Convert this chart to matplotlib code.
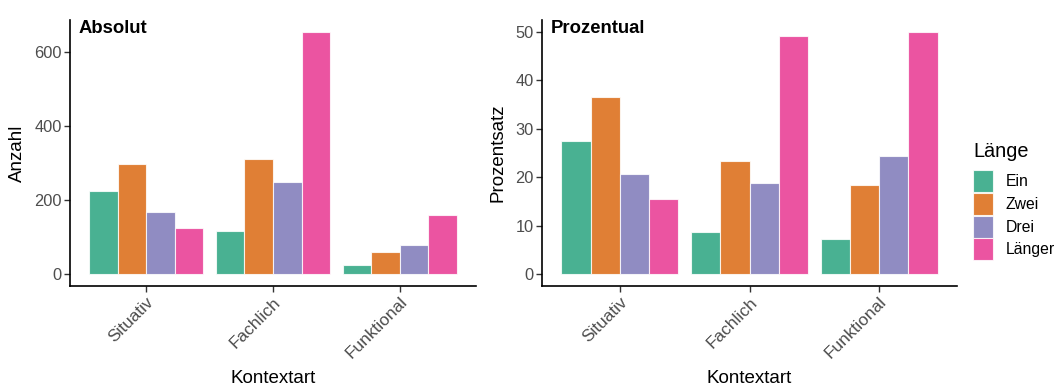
import numpy as np
import matplotlib
matplotlib.use("Agg")
import matplotlib.pyplot as plt
from matplotlib.patches import Patch

plt.rcParams['font.family'] = ['Liberation Sans', 'DejaVu Sans']

kontext = ['Situativ', 'Fachlich', 'Funktional']
laenge = ['Ein', 'Zwei', 'Drei', 'Länger']

# counts per Kontextart (rows) and Länge (columns)
anzahl = np.array([
    [223, 296, 167, 125],
    [116, 312, 249, 654],
    [23, 59, 78, 160],
])
prozent = np.array([
    [27.5, 36.5, 20.6, 15.4],
    [8.7, 23.4, 18.7, 49.1],
    [7.2, 18.4, 24.4, 50.0],
])

# Dark2 with alpha 0.8
farben = ['#1B9E77', '#D95F02', '#7570B3', '#E7298A']
alpha = 0.8

W, H = 1056, 385
fig = plt.figure(figsize=(W / 100, H / 100), dpi=100)

def px_axes(x0, x1, y0, y1):
    return fig.add_axes([x0 / W, 1 - y1 / H, (x1 - x0) / W, (y1 - y0) / H])

ax1 = px_axes(70, 476, 20, 286)
ax2 = px_axes(542, 957, 20, 286)

def panel(ax, werte, ylabel, titel, ticks):
    x = np.arange(1, len(kontext) + 1)
    bw = 0.9 / len(laenge)
    for j, name in enumerate(laenge):
        ax.bar(x - 0.45 + bw * (j + 0.5), werte[:, j], width=bw,
               color=farben[j], alpha=alpha, edgecolor='white', linewidth=0.8)
    ymax = werte.max()
    ax.set_ylim(-0.05 * ymax, 1.05 * ymax)
    ax.set_xlim(0.4, 3.6)
    ax.set_yticks(ticks)
    ax.set_xticks(x)
    ax.set_xticklabels(kontext, rotation=45, ha='right', va='top',
                       rotation_mode='anchor', fontsize=12.4)
    for s in ['top', 'right']:
        ax.spines[s].set_visible(False)
    for s in ['left', 'bottom']:
        ax.spines[s].set_linewidth(1.2)
        ax.spines[s].set_color('black')
    ax.tick_params(axis='both', length=4, width=1, color='#333333',
                   labelcolor='#4D4D4D', pad=2)
    ax.tick_params(axis='y', labelsize=11.8)
    ax.set_ylabel(ylabel, fontsize=13.5, labelpad=6)
    ax.set_xlabel('Kontextart', fontsize=13.5, labelpad=6)
    ax.text(0.02, 1.0, titel, transform=ax.transAxes, fontsize=13.3,
            fontweight='bold', ha='left', va='top')

panel(ax1, anzahl, 'Anzahl', 'Absolut', [0, 200, 400, 600])
panel(ax2, prozent, 'Prozentsatz', 'Prozentual', [0, 10, 20, 30, 40, 50])

handles = [Patch(facecolor=c, alpha=alpha, edgecolor='white', linewidth=0.8) for c in farben]
leg = fig.legend(handles, laenge, title='Länge', loc='upper left',
                 bbox_to_anchor=(973 / W, 1 - 142 / H), frameon=False,
                 fontsize=11.3, title_fontsize=14.3, handlelength=1.3,
                 handleheight=1.78, labelspacing=0.05, handletextpad=0.8,
                 borderaxespad=0, borderpad=0)
leg._legend_box.align = 'left'
leg._legend_box.sep = 6.5

fig.savefig('out.png', dpi=100)
